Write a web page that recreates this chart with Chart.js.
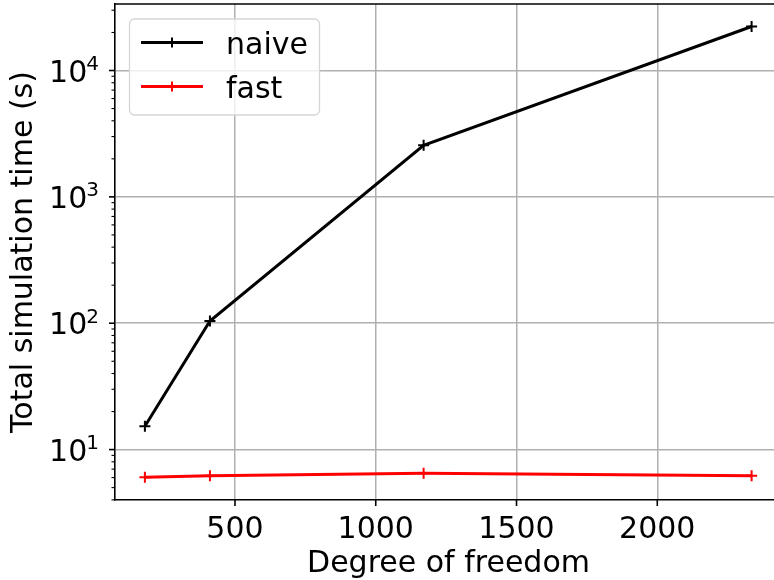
<!DOCTYPE html>
<html>
<head>
<meta charset="utf-8">
<script src="https://cdn.jsdelivr.net/npm/chart.js@4.4.1/dist/chart.umd.min.js"></script>
<style>
  html, body { margin: 0; padding: 0; background: #fff; overflow: hidden; }
  /* the axes run a little past the right and bottom edge of the window, as in the reference */
  #wrap { width: 782px; height: 585px; }
</style>
</head>
<body>
<div id="wrap"><canvas id="chart"></canvas></div>
<script>
// values
const dof = [180, 411, 1170, 2335];
const naiveTime = [15.3, 104, 2560, 22300];
const fastTime = [6.04, 6.22, 6.5, 6.22];
const seriesNames = ['naive', 'fast'];
const seriesColors = ['#000000', '#ff0000'];
const xTicks = [500, 1000, 1500, 2000];
const yDecades = [1, 2, 3, 4];

const FONT = 'DejaVu Sans';
const GRID = '#b0b0b0';

const toPoints = (ys) => dof.map((x, i) => ({ x: x, y: ys[i] }));
const isDecade = (v) => Math.abs(Math.log10(v) - Math.round(Math.log10(v))) < 1e-9;

// ticks, top spine, y labels with exponents and the legend box
const axesPlugin = {
  id: 'axesPlugin',
  afterDraw(chart) {
    const ctx = chart.ctx;
    const area = chart.chartArea;
    const xs = chart.scales.x;
    const ys = chart.scales.y;
    ctx.save();
    ctx.strokeStyle = '#000';

    // top spine
    ctx.lineWidth = 1.6;
    ctx.beginPath();
    ctx.moveTo(area.left - 0.8, area.top);
    ctx.lineTo(area.right + 2, area.top);
    ctx.stroke();

    // x major ticks
    xTicks.forEach(v => {
      const px = xs.getPixelForValue(v);
      ctx.beginPath();
      ctx.moveTo(px, area.bottom);
      ctx.lineTo(px, area.bottom + 6);
      ctx.stroke();
    });

    // y ticks, major and minor
    ys.ticks.forEach(t => {
      const py = ys.getPixelForValue(t.value);
      const major = isDecade(t.value);
      ctx.lineWidth = major ? 1.6 : 1.1;
      ctx.beginPath();
      ctx.moveTo(area.left, py);
      ctx.lineTo(area.left - (major ? 6 : 3.5), py);
      ctx.stroke();
    });

    // y labels: 10 with a raised exponent
    ctx.fillStyle = '#000';
    ctx.textBaseline = 'alphabetic';
    yDecades.forEach(d => {
      const py = ys.getPixelForValue(Math.pow(10, d));
      ctx.font = '20px "' + FONT + '"';
      const expW = ctx.measureText(String(d)).width;
      const right = area.left - 16;
      ctx.textAlign = 'right';
      ctx.fillText(String(d), right, py - 0.5);
      ctx.font = '30px "' + FONT + '"';
      ctx.fillText('10', right - expW + 1, py + 11);
    });

    // legend
    const lx = 129.5, ly = 19, lw = 190, lh = 96;
    ctx.beginPath();
    ctx.roundRect(lx, ly, lw, lh, 5);
    ctx.fillStyle = 'rgba(255,255,255,0.8)';
    ctx.fill();
    ctx.lineWidth = 1.3;
    ctx.strokeStyle = '#d6d6d6';
    ctx.stroke();

    const rows = [42.5, 86.5];
    chart.data.datasets.forEach((ds, i) => {
      const cy = rows[i];
      ctx.strokeStyle = ds.borderColor;
      ctx.lineWidth = 3;
      ctx.beginPath();
      ctx.moveTo(141, cy);
      ctx.lineTo(203, cy);
      ctx.stroke();
      ctx.lineWidth = 2;
      ctx.beginPath();
      ctx.moveTo(172, cy - 5);
      ctx.lineTo(172, cy + 5);
      ctx.stroke();
      ctx.fillStyle = '#000';
      ctx.textAlign = 'left';
      ctx.font = '30px "' + FONT + '"';
      ctx.fillText(ds.label, 226, cy + 11);
    });
    ctx.restore();
  }
};

new Chart(document.getElementById('chart'), {
  type: 'line',
  data: {
    datasets: [
      {
        label: seriesNames[0],
        data: toPoints(naiveTime),
        borderColor: seriesColors[0],
        pointBorderColor: seriesColors[0],
        borderWidth: 3,
        pointStyle: 'cross',
        pointRadius: 5.5,
        pointBorderWidth: 2,
        tension: 0,
        fill: false
      },
      {
        label: seriesNames[1],
        data: toPoints(fastTime),
        borderColor: seriesColors[1],
        pointBorderColor: seriesColors[1],
        borderWidth: 3,
        pointStyle: 'cross',
        pointRadius: 5.5,
        pointBorderWidth: 2,
        tension: 0,
        fill: false
      }
    ]
  },
  options: {
    responsive: true,
    maintainAspectRatio: false,
    animation: false,
    layout: { autoPadding: false, padding: { left: 0, top: 4, right: 0, bottom: 0 } },
    plugins: {
      legend: { display: false },
      tooltip: { enabled: false }
    },
    scales: {
      x: {
        type: 'linear',
        min: 73.8,
        max: 2443,
        afterBuildTicks: (scale) => { scale.ticks = xTicks.map(v => ({ value: v })); },
        afterFit: (scale) => { scale.height = 85; },
        grid: { color: GRID, lineWidth: 1.5, drawTicks: false },
        border: { display: true, color: '#000', width: 1.6 },
        ticks: {
          color: '#000',
          font: { family: FONT, size: 30 },
          padding: 12,
          maxRotation: 0,
          callback: (v) => String(v)
        },
        title: {
          display: true,
          text: 'Degree of freedom',
          color: '#000',
          font: { family: FONT, size: 30 },
          padding: { top: 0, bottom: 3 }
        }
      },
      y: {
        type: 'logarithmic',
        min: 3.99,
        max: 33600,
        afterBuildTicks: (scale) => {
          const ticks = [];
          for (let d = 0; d <= 4; d++) {
            for (let m = 1; m <= 9; m++) {
              const v = m * Math.pow(10, d);
              if (v >= scale.min && v <= scale.max) ticks.push({ value: v });
            }
          }
          scale.ticks = ticks;
        },
        afterFit: (scale) => { scale.width = 115; },
        grid: {
          color: (c) => (c.tick && isDecade(c.tick.value)) ? GRID : 'rgba(0,0,0,0)',
          lineWidth: 1.5,
          drawTicks: false
        },
        border: { display: true, color: '#000', width: 1.6 },
        ticks: { display: false },
        title: {
          display: true,
          text: 'Total simulation time (s)',
          color: '#000',
          font: { family: FONT, size: 30 },
          padding: { top: 6, bottom: 0 }
        }
      }
    }
  },
  plugins: [axesPlugin]
});
</script>
</body>
</html>
